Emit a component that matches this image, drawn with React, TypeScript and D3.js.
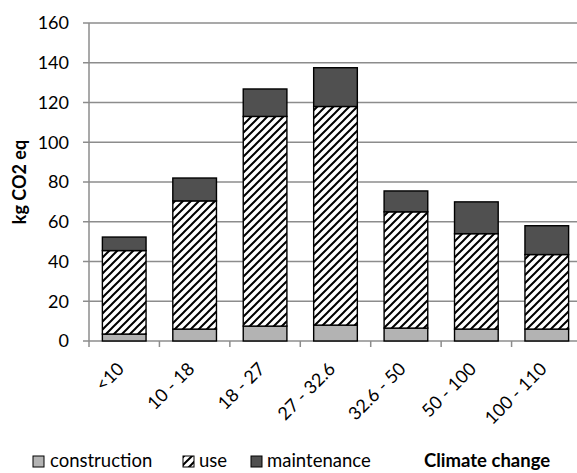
import React from "react";
import * as d3 from "d3";

const categories = ["<10", "10 - 18", "18 - 27", "27 - 32.6", "32.6 - 50", "50 - 100", "100 - 110"];
const construction = [3.5, 6, 7.5, 8, 6.5, 6, 6];
const use = [42, 64.5, 105.5, 110, 58.5, 48, 37.5];
const maintenance = [6.8, 11.5, 13.8, 19.5, 10.5, 16, 14.5];
const yTicks = [0, 20, 40, 60, 80, 100, 120, 140, 160];
const seriesNames = ["construction", "use", "maintenance"];
const title = "Climate change";
const yLabel = "kg CO2 eq";

const W = 577;
const H = 473;
const FONT = "Lato, 'Open Sans', sans-serif";

export default function App() {
  const x = d3.scaleBand().domain(categories).range([89, 582]).paddingInner(0.38).paddingOuter(0.19);
  const y = d3.scaleLinear().domain([0, 160]).range([341, 23]);
  const band = d3.scaleBand().domain(categories).range([89, 582]);

  const rows = categories.map((c, i) => ({
    cat: c,
    construction: construction[i],
    use: use[i],
    maintenance: maintenance[i],
  }));
  const stack = d3.stack<any>().keys(seriesNames)(rows);
  const fills: Record<string, string> = {
    construction: "#b3b3b3",
    use: "url(#hatch)",
    maintenance: "#505050",
  };

  const legendItems = [
    { name: "construction", sx: 33, tx: 50 },
    { name: "use", sx: 183, tx: 199 },
    { name: "maintenance", sx: 251, tx: 267 },
  ];

  return (
    <svg width={W} height={H} style={{ position: "absolute", left: 0, top: 0, background: "#fff" }}>
      <defs>
        <pattern id="hatch" width="8" height="8" patternUnits="userSpaceOnUse">
          <rect width="8" height="8" fill="#fff" />
          <path d="M-2,10 L10,-2 M-2,2 L2,-2 M6,10 L10,6" stroke="#000" strokeWidth="2" />
        </pattern>
      </defs>
      {yTicks.map((t) => (
        <g key={t}>
          <line x1={83} x2={W} y1={y(t)} y2={y(t)} stroke="#8c8c8c" strokeWidth={1.5} />
          <text x={69} y={y(t)} dy="0.36em" textAnchor="end" fontFamily={FONT} fontSize={18} fill="#000">
            {t}
          </text>
        </g>
      ))}
      <line x1={89} x2={89} y1={23} y2={341} stroke="#8c8c8c" strokeWidth={1.5} />
      {categories.map((c, i) => (
        <line key={"t" + i} x1={band(c)!} x2={band(c)!} y1={341} y2={347} stroke="#8c8c8c" strokeWidth={1.5} />
      ))}
      {stack.map((s) =>
        s.map((d, i) => (
          <rect
            key={s.key + i}
            x={x(categories[i])!}
            width={x.bandwidth()}
            y={y(d[1])}
            height={y(d[0]) - y(d[1])}
            fill={fills[s.key]}
            stroke="#000"
            strokeWidth={1.4}
          />
        ))
      )}
      {categories.map((c, i) => {
        const cx = band(c)! + band.bandwidth() / 2 + 1;
        return (
          <text
            key={"l" + i}
            transform={`translate(${cx},${370}) rotate(-45)`}
            textAnchor="end"
            fontFamily={FONT}
            fontSize={18}
            fill="#000"
          >
            {c}
          </text>
        );
      })}
      <text
        transform={`translate(26,182) rotate(-90)`}
        textAnchor="middle"
        fontFamily={FONT}
        fontSize={18}
        fontWeight="bold"
        fill="#000"
      >
        {yLabel}
      </text>
      {legendItems.map((l) => (
        <g key={l.name}>
          <rect x={l.sx} y={456} width={11} height={11} fill={fills[l.name]} stroke="#000" strokeWidth={1} />
          <text x={l.tx} y={467} fontFamily={FONT} fontSize={18.5} fill="#000">
            {l.name}
          </text>
        </g>
      ))}
      <text x={424} y={467} fontFamily={FONT} fontSize={18.5} fontWeight="bold" fill="#000">
        {title}
      </text>
    </svg>
  );
}
